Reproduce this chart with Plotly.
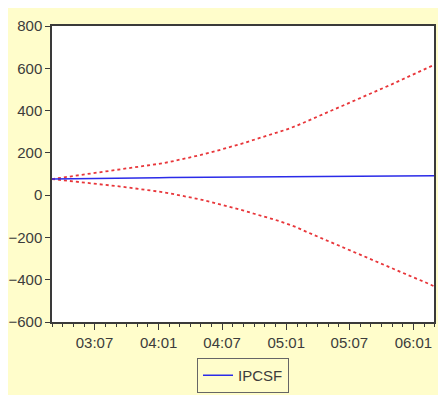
import plotly.graph_objects as go
import pandas as pd

# Monthly sample 2003M03 - 2006M03
months = pd.date_range("2003-03-01", "2006-03-01", freq="MS")

ipcsf = [76, 77, 78, 79, 79.5, 80, 80.5, 81, 81.5, 82, 82.5, 83, 83.5, 84, 84.5,
         85, 85.5, 86, 86.3, 86.6, 87, 87.3, 87.6, 88, 88.3, 88.6, 89, 89.3, 89.6,
         90, 90.3, 90.6, 91, 91.3, 91.6, 92, 92.3]
upper = [76, 83, 90, 97, 104, 111, 118, 125, 132, 140, 148, 157, 167, 178, 190,
         203, 216, 231, 246, 262, 277, 293, 310, 329, 349, 370, 391, 413, 435,
         457, 479, 502, 525, 548, 571, 594, 616]
lower = [76, 71, 66, 61, 55, 49, 43, 37, 31, 24, 17, 9, 0, -10, -21,
         -33, -45, -59, -73, -88, -102, -117, -134, -153, -174, -196, -218, -240, -262,
         -284, -305, -326, -347, -368, -389, -410, -431]
assert len(ipcsf) == len(upper) == len(lower) == len(months)

y_ticks = [-600, -400, -200, 0, 200, 400, 600, 800]

YELLOW = "#FFFDCB"
FRAME = "#3a3a3a"
FONT = dict(family="Liberation Sans, Arial, sans-serif", size=15, color="#3c3c3c")

fig = go.Figure()
fig.add_trace(go.Scatter(x=months, y=upper, mode="lines", showlegend=False,
                         line=dict(color="#E8363A", width=1.8, dash="dot"), hoverinfo="skip"))
fig.add_trace(go.Scatter(x=months, y=lower, mode="lines", showlegend=False,
                         line=dict(color="#E8363A", width=1.8, dash="dot"), hoverinfo="skip"))
fig.add_trace(go.Scatter(x=months, y=ipcsf, mode="lines", name="IPCSF",
                         line=dict(color="#2B2BE8", width=1.5)))

W, H = 438, 387
L, R, T, B = 44, 12, 18, 73
ph = H - T - B


def px_y(p):
    return (H - B - p) / ph


fig.update_layout(
    template="none",
    width=W, height=H,
    margin=dict(l=L, r=R, t=T, b=B, pad=0, autoexpand=False),
    paper_bgcolor=YELLOW,
    plot_bgcolor="white",
    font=FONT,
    xaxis=dict(
        type="date",
        range=[months[0], months[-1]],
        tick0="2003-07-01", dtick="M6", tickformat="%y:%m",
        ticks="outside", ticklen=6, tickcolor=FRAME, tickwidth=1,
        minor=dict(dtick="M1", ticks="outside", ticklen=3, tickcolor=FRAME, tickwidth=1,
                   showgrid=False),
        showline=True, linecolor=FRAME, linewidth=1.5, mirror=True,
        showgrid=False, zeroline=False, fixedrange=True, automargin=False,
        tickfont=FONT,
    ),
    yaxis=dict(
        range=[-600, 800], tickvals=y_ticks,
        ticks="outside", ticklen=5, tickcolor=FRAME, tickwidth=1,
        showline=True, linecolor=FRAME, linewidth=1.5, mirror=True,
        showgrid=False, zeroline=False, fixedrange=True, automargin=False,
        tickfont=FONT,
    ),
    legend=dict(
        x=0.5, xanchor="center", y=px_y(350), yanchor="top",
        bgcolor=YELLOW, bordercolor="#666666", borderwidth=1,
        itemwidth=30, font=FONT, tracegroupgap=0,
    ),
)

fig.write_html("out.html")
